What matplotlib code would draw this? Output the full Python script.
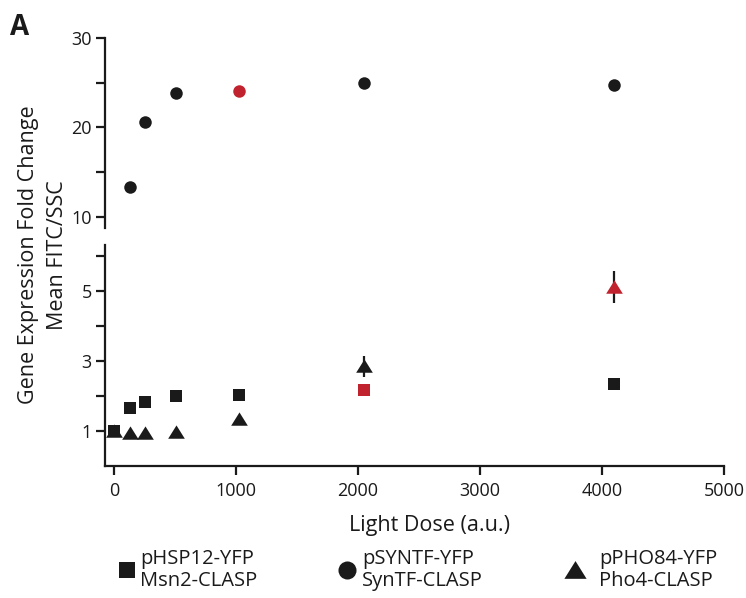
import matplotlib
matplotlib.use("Agg")
import matplotlib.pyplot as plt
from matplotlib.lines import Line2D
import numpy as np

plt.rcParams['font.family'] = ['Open Sans', 'DejaVu Sans']

# ---- data ----
dose = [0, 128, 256, 512, 1024, 2048, 4096]

syn_dose = [128, 256, 512, 1024, 2048, 4096]
syn_val = [13.4, 20.6, 23.8, 24.1, 25.0, 24.7]
syn_err = [0.4, 0.2, 0.2, 0.2, 0.2, 0.4]
syn_red = [False, False, False, True, False, False]

hsp_val = [1.0, 1.65, 1.82, 1.99, 2.02, 2.17, 2.34]
hsp_err = [0.03, 0.03, 0.03, 0.03, 0.03, 0.03, 0.03]
hsp_red = [False, False, False, False, False, True, False]

pho_val = [1.0, 0.95, 0.95, 0.98, 1.35, 2.85, 5.1]
pho_err = [0.02, 0.02, 0.02, 0.02, 0.05, 0.3, 0.45]
pho_red = [False, False, False, False, False, False, True]

xticks = [0, 1000, 2000, 3000, 4000, 5000]
upper_ticks = [10, 15, 20, 25, 30]
upper_labels = ['10', '', '20', '', '30']
lower_ticks = [1, 2, 3, 4, 5, 6]
lower_labels = ['1', '', '3', '', '5', '']

legend_labels = ['pHSP12-YFP\nMsn2-CLASP', 'pSYNTF-YFP\nSynTF-CLASP', 'pPHO84-YFP\nPho4-CLASP']

BLACK = '#1a1a1a'
RED = '#c1232e'
tri = [(-1, -0.75), (1, -0.75), (0, 0.85)]

W, H = 746, 598
fig = plt.figure(figsize=(W / 100, H / 100), dpi=100)

def fx(px):
    return px / W

def fy(py):
    return 1 - py / H

left, right = 105, 724
ax_up = fig.add_axes([fx(left), fy(228), fx(right) - fx(left), fy(38) - fy(228)])
ax_lo = fig.add_axes([fx(left), fy(466), fx(right) - fx(left), fy(245) - fy(466)])

xlim = (-74, 5000)
for ax in (ax_up, ax_lo):
    ax.set_xlim(*xlim)
    ax.spines['top'].set_visible(False)
    ax.spines['right'].set_visible(False)
    ax.spines['left'].set_linewidth(1.6)
    ax.spines['bottom'].set_linewidth(1.6)
    ax.spines['left'].set_color(BLACK)
    ax.spines['bottom'].set_color(BLACK)
    ax.tick_params(direction='out', length=6.5, width=1.6, colors=BLACK,
                   labelsize=13, pad=3)
    ax.patch.set_visible(False)

ax_up.spines['bottom'].set_visible(False)
ax_up.set_xticks([])
ax_up.set_ylim(8.77, 30)
ax_up.set_yticks(upper_ticks)
ax_up.set_yticklabels(upper_labels)

ax_lo.set_ylim(0, 6.3)
ax_lo.set_yticks(lower_ticks)
ax_lo.set_yticklabels(lower_labels)
ax_lo.set_xticks(xticks)
ax_lo.set_xticklabels([str(t) for t in xticks])
ax_lo.tick_params(axis='x', pad=5)


def draw(ax, xs, ys, es, reds, marker, ms):
    for x, y, e, r in zip(xs, ys, es, reds):
        c = RED if r else BLACK
        ax.errorbar([x], [y], yerr=[e], fmt='none', ecolor=BLACK, elinewidth=1.6,
                    capsize=0, zorder=2)
        ax.plot([x], [y], marker=marker, ms=ms, color=c, mec=c, mew=0,
                linestyle='none', zorder=3)

draw(ax_up, syn_dose, syn_val, syn_err, syn_red, 'o', 9)
draw(ax_lo, dose, pho_val, pho_err, pho_red, tri, 12)
draw(ax_lo, dose, hsp_val, hsp_err, hsp_red, 's', 8)

# labels
fig.text(fx(10), fy(35), 'A', fontsize=20, fontweight='bold', va='baseline', ha='left',
         color=BLACK)
fig.text(fx(43), fy(255), 'Gene Expression Fold Change\nMean FITC/SSC', rotation=90,
         ha='center', va='center', multialignment='center', fontsize=15.5,
         linespacing=1.5, color=BLACK)
fig.text(fx(429), fy(525), 'Light Dose (a.u.)', ha='center', va='center', fontsize=15.5,
         color=BLACK)

# legend
handles = [
    Line2D([], [], marker='s', ms=12, color=BLACK, mew=0, linestyle='none'),
    Line2D([], [], marker='o', ms=13, color=BLACK, mew=0, linestyle='none'),
    Line2D([], [], marker=tri, ms=16, color=BLACK, mew=0, linestyle='none'),
]
leg_x = [116.6, 336.6, 564.6]
leg_pad = [0.15, 0.25, 0.7]
for h, lab, lx, pd in zip(handles, legend_labels, leg_x, leg_pad):
    leg = fig.legend(handles=[h], labels=[lab], loc='center left',
                     bbox_to_anchor=(fx(lx), fy(570)), frameon=False, fontsize=14.5,
                     handlelength=1.0, handletextpad=pd, borderaxespad=0, borderpad=0,
                     labelcolor=BLACK)
    for t in leg.get_texts():
        t.set_linespacing(1.12)

fig.savefig('out.png', dpi=100)
